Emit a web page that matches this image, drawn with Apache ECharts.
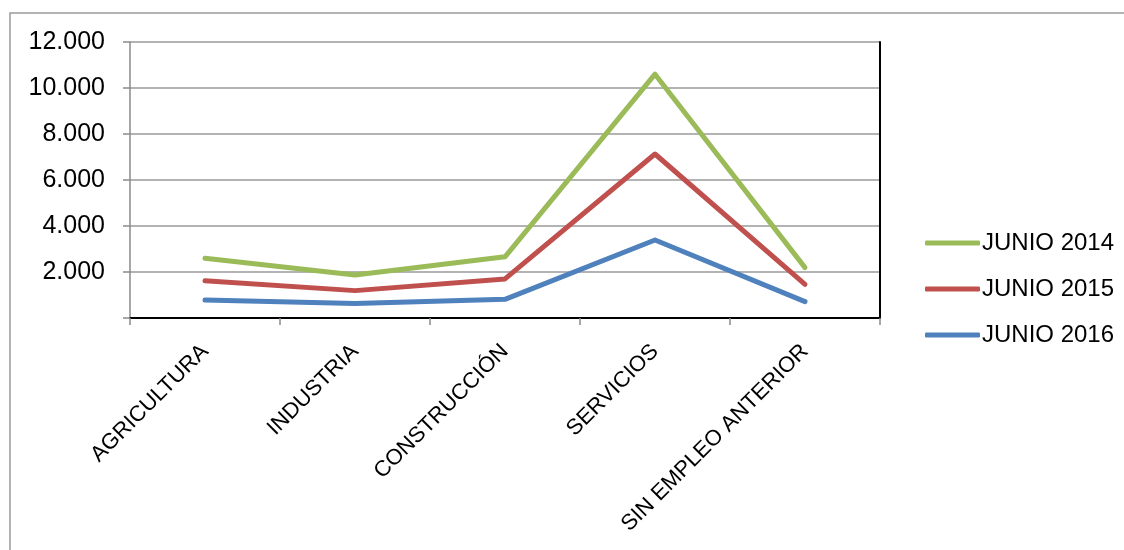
<!DOCTYPE html>
<html>
<head>
<meta charset="utf-8">
<script src="https://cdn.jsdelivr.net/npm/echarts@6/dist/echarts.min.js"></script>
<style>
html,body{margin:0;padding:0;background:#fff;}
#c{width:1124px;height:550px;}
</style>
</head>
<body>
<div id="c"></div>
<script>
const categories = ['AGRICULTURA', 'INDUSTRIA', 'CONSTRUCCIÓN', 'SERVICIOS', 'SIN EMPLEO ANTERIOR'];
const seriesNames = ['JUNIO 2014', 'JUNIO 2015', 'JUNIO 2016'];
const junio2014 = [2600, 1870, 2660, 10600, 2190];
const junio2015 = [1620, 1190, 1700, 7130, 1460];
const junio2016 = [780, 630, 810, 3390, 710];
const yTicks = [0, 2000, 4000, 6000, 8000, 10000, 12000];

const colors = ['#9BBB59', '#C0504D', '#4F81BD'];
const FONT = "'Liberation Sans', Arial, sans-serif";
function fmt(v) {
  if (v === 0) return '';
  return String(v).replace(/\B(?=(\d{3})+(?!\d))/g, '.');
}

const chart = echarts.init(document.getElementById('c'), null, {renderer: 'canvas'});
const dataSets = [junio2014, junio2015, junio2016];
chart.setOption({
  animation: false,
  backgroundColor: '#fff',
  color: colors,
  graphic: [{
    type: 'rect', silent: true, z: -10,
    shape: {x: 10, y: 13, width: 1200, height: 600},
    style: {fill: 'none', stroke: '#9a9a9a', lineWidth: 1.5}
  }],
  grid: {left: 130, right: 244, top: 42, bottom: 232, containLabel: false},
  legend: {
    orient: 'vertical',
    left: 920,
    top: 226,
    itemWidth: 55,
    itemHeight: 5,
    itemGap: 22,
    icon: 'roundRect',
    data: seriesNames,
    textStyle: {fontFamily: FONT, fontSize: 24, color: '#000', lineHeight: 24, padding: [0, 0, 0, -3]}
  },
  xAxis: [{
    type: 'category',
    data: categories,
    boundaryGap: true,
    axisLine: {lineStyle: {color: '#8a8a8a', width: 1.5}},
    axisTick: {show: true, length: 7, lineStyle: {color: '#8a8a8a', width: 1.5}},
    axisLabel: {rotate: 45, margin: 30, fontFamily: FONT, fontSize: 22, color: '#000', interval: 0}
  }, {
    type: 'category',
    position: 'top',
    data: categories,
    axisLine: {show: true, lineStyle: {color: '#000', width: 2}},
    axisTick: {show: false},
    axisLabel: {show: false}
  }],
  yAxis: [{
    type: 'value',
    min: 0, max: 12000, interval: 2000,
    axisLine: {show: true, lineStyle: {color: '#8a8a8a', width: 1.5}},
    axisTick: {show: true, length: 7, lineStyle: {color: '#8a8a8a', width: 1.5}},
    splitLine: {show: true, lineStyle: {color: '#9a9a9a', width: 1.5}},
    axisLabel: {margin: 25, fontFamily: FONT, fontSize: 25, color: '#000', formatter: fmt}
  }, {
    type: 'value',
    position: 'right',
    min: 0, max: 12000, interval: 2000,
    axisLine: {show: true, lineStyle: {color: '#000', width: 2}},
    axisTick: {show: false},
    splitLine: {show: false},
    axisLabel: {show: false}
  }],
  series: seriesNames.map((n, i) => ({
    name: n,
    type: 'line',
    data: dataSets[i],
    symbol: 'none',
    lineStyle: {width: 5, color: colors[i], cap: 'round', join: 'round'},
    itemStyle: {color: colors[i]}
  }))
});
</script>
</body>
</html>
